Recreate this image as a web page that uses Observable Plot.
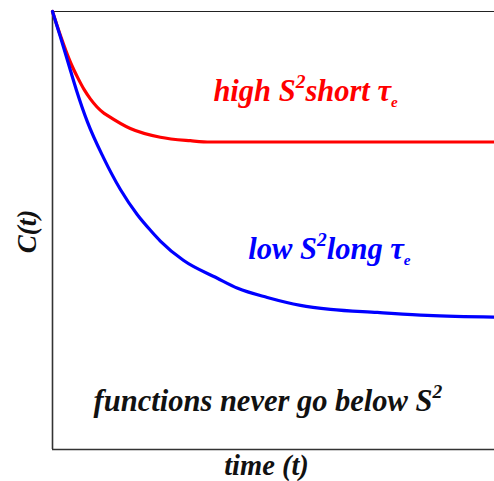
<!DOCTYPE html>
<html><head><meta charset="utf-8">
<script src="https://cdn.jsdelivr.net/npm/d3@7"></script>
<script src="https://cdn.jsdelivr.net/npm/@observablehq/plot@0.6"></script>
<style>body{margin:0;background:#fff;} #chart{width:494px;height:481px;}</style>
</head><body><div id="chart"></div>
<script>
// high S^2, short tau_e (red)
const redT = [0, 0.18, 0.41, 0.57, 0.72, 0.86, 1.15, 1.24, 1.76, 2.44, 3.12, 3.57, 5.61, 10];
const redC = [1.0, 0.945, 0.883, 0.849, 0.821, 0.800, 0.769, 0.763, 0.733, 0.713, 0.705, 0.702, 0.702, 0.702];
// low S^2, long tau_e (blue)
const blueT = [0, 0.18, 0.41, 0.54, 0.79, 1.15, 1.54, 1.92, 2.22, 2.44, 2.96, 3.73, 4.19, 4.86, 5.61, 6.29, 7.35, 8.48, 10];
const blueC = [1.0, 0.942, 0.864, 0.821, 0.748, 0.667, 0.593, 0.536, 0.500, 0.476, 0.432, 0.391, 0.368, 0.347, 0.329, 0.320, 0.313, 0.306, 0.302];
// annotation labels (^ = superscript, _ = subscript)
const noteText = ["high S^2short τ_e", "low S^2long τ_e", "functions never go below S^2"];
const noteT = [3.64, 4.43, 0.93];
const noteC = [0.798, 0.437, 0.089];
const noteColor = ["#ff0000", "#0000ff", "#111111"];
const xLabel = "time (t)";
const yLabel = "C(t)";

const red = redT.map((t, i) => ({t, c: redC[i]}));
const blue = blueT.map((t, i) => ({t, c: blueC[i]}));
const notes = noteText.map((s, i) => ({s, t: noteT[i], c: noteC[i], color: noteColor[i]}));

const FONT = "Liberation Serif";
const FS = 30.5;

const chart = Plot.plot({
  width: 494, height: 481,
  marginLeft: 52, marginRight: 0, marginTop: 11, marginBottom: 32,
  x: {domain: [0, 10], axis: null},
  y: {domain: [0, 1], axis: null},
  style: {background: "#fff"},
  marks: [
    Plot.ruleY([1], {stroke: "#222", strokeWidth: 1.2}),
    Plot.ruleX([0], {stroke: "#333", strokeWidth: 1.6}),
    Plot.ruleY([0], {stroke: "#333", strokeWidth: 1.6}),
    Plot.line(red, {x: "t", y: "c", stroke: "#ff0000", strokeWidth: 3.2, curve: "monotone-x"}),
    Plot.line(blue, {x: "t", y: "c", stroke: "#0000ff", strokeWidth: 3.2, curve: "monotone-x"}),
    Plot.text(notes, {x: "t", y: "c", text: "s", fill: "color", textAnchor: "start", lineAnchor: "middle", dy: -9,
      fontFamily: FONT, fontSize: FS, fontStyle: "italic", fontWeight: "bold"}),
    Plot.text([yLabel], {frameAnchor: "left", dx: -25, dy: 1, rotate: -90, textAnchor: "middle", lineAnchor: "middle",
      text: d => d, fill: "#111",
      fontFamily: FONT, fontSize: 27, fontStyle: "italic", fontWeight: "bold"}),
    Plot.text([xLabel], {frameAnchor: "bottom", dx: -7, dy: 25, textAnchor: "middle", text: d => d, fill: "#111",
      fontFamily: FONT, fontSize: 28.5, fontStyle: "italic", fontWeight: "bold"})
  ]
});
document.getElementById("chart").appendChild(chart);

// turn ^x / _x markers into real superscript / subscript tspans
chart.querySelectorAll("text").forEach(el => {
  const s = el.textContent;
  if (!/[\^_]/.test(s)) return;
  const fs = parseFloat(getComputedStyle(el).fontSize) || FS;
  const parts = s.split(/(\^.|_.)/).filter(p => p.length);
  el.textContent = "";
  let shift = 0;
  const ns = "http://www.w3.org/2000/svg";
  parts.forEach(p => {
    const ts = document.createElementNS(ns, "tspan");
    let target = 0, txt = p;
    if (p[0] === "^") { target = -0.42 * fs; txt = p.slice(1); ts.setAttribute("font-size", (0.64 * fs) + "px"); }
    else if (p[0] === "_") { target = 0.2 * fs; txt = p.slice(1); ts.setAttribute("font-size", (0.5 * fs) + "px"); }
    if (target !== shift) { ts.setAttribute("dy", (target - shift) + "px"); shift = target; }
    ts.textContent = txt;
    el.appendChild(ts);
  });
});
</script>
</body></html>
